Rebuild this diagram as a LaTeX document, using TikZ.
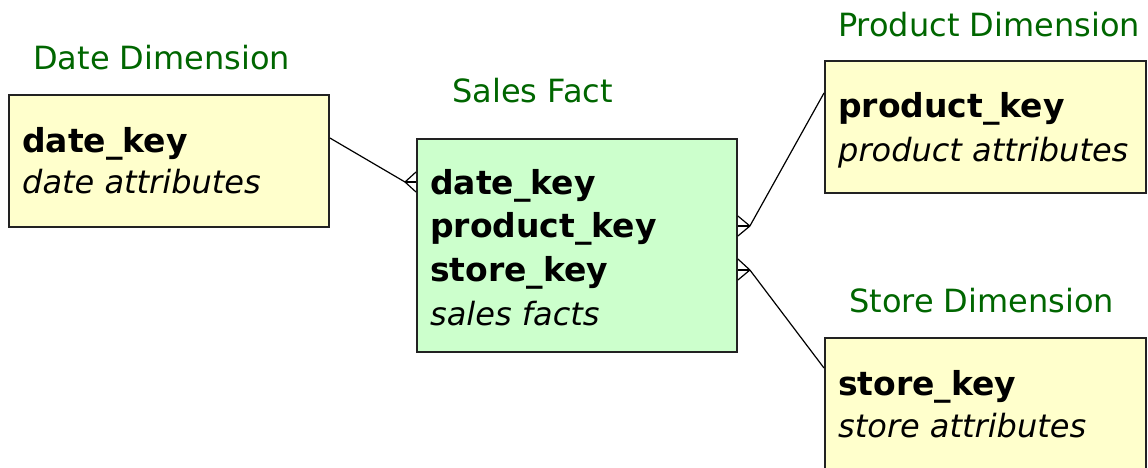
\documentclass[tikz,border=0pt]{standalone}
\usepackage{fontspec}
\setmainfont{DejaVu Sans}
\usetikzlibrary{calc}
\definecolor{dimfill}{HTML}{FFFFCC}
\definecolor{factfill}{HTML}{CCFFCC}
\definecolor{titlegreen}{HTML}{006600}
\definecolor{edgegray}{HTML}{222222}
\tikzset{
  tablebox/.style={draw=edgegray, line width=1.9pt, inner sep=0pt, anchor=north west},
  dimbox/.style={tablebox, fill=dimfill, minimum width=321pt, minimum height=132pt},
  factbox/.style={tablebox, fill=factfill, minimum width=320pt, minimum height=213pt},
  keytext/.style={anchor=base west, inner sep=0pt, font=\fontsize{33}{40}\selectfont\bfseries},
  attrtext/.style={anchor=base west, inner sep=0pt, font=\fontsize{32}{40}\selectfont\itshape},
  title/.style={anchor=base west, inner sep=0pt, text=titlegreen, font=\fontsize{32}{40}\selectfont},
  link/.style={draw=black, line width=1.2pt},
  prong/.style={draw=black, line width=2.2pt}
}
\begin{document}
\begin{tikzpicture}[x=1pt,y=-1pt]
\useasboundingbox (0,0) rectangle (1148,467);
\clip (0,0) rectangle (1148,467);

% tables
\node[dimbox, minimum width=320pt] (date) at (8,94) {};
\node[factbox] (fact) at (416,138) {};
\node[dimbox] (product) at (824,60) {};
\node[dimbox, minimum height=160pt] (store) at (824,337) {};

% titles
\node[title] (tdate) at (33,69) {Date Dimension};
\node[title] (tfact) at (452,102) {Sales Fact};
\node[title] (tproduct) at (838,36) {Product Dimension};
\node[title] (tstore) at (849,312) {Store Dimension};

% table contents
\node[keytext] (d1) at (22,152) {date\_key};
\node[attrtext] (d2) at (22,193) {date attributes};

\node[keytext] (f1) at (430,194) {date\_key};
\node[keytext] (f2) at (430,237.5) {product\_key};
\node[keytext] (f3) at (430,281) {store\_key};
\node[attrtext] (f4) at (430,325) {sales facts};

\node[keytext] (p1) at (838,117) {product\_key};
\node[attrtext] (p2) at (838,161) {product attributes};

\node[keytext] (s1) at (838,395) {store\_key};
\node[attrtext] (s2) at (838,437) {store attributes};

% connection points
\coordinate (dport) at ($(date.north east)+(0,44)$);
\coordinate (dfoot) at ($(fact.north west)+(-11,44)$);
\coordinate (pport) at ($(product.north west)+(0,33)$);
\coordinate (pfoot) at ($(fact.north east)+(12,88)$);
\coordinate (sport) at ($(store.north west)+(0,31)$);
\coordinate (sfoot) at ($(fact.north east)+(12,132)$);

% date -> fact (many side at fact)
\draw[link] (dport) -- (dfoot);
\draw[link] (dfoot) -- ($(fact.north west)+(0,34)$);
\draw[link] (dfoot) -- ($(fact.north west)+(0,54)$);
\draw[prong] (dfoot) -- ($(fact.north west)+(0,44)$);

% product -> fact
\draw[link] (pport) -- (pfoot);
\draw[link] (pfoot) -- ($(fact.north east)+(0,78)$);
\draw[link] (pfoot) -- ($(fact.north east)+(0,98)$);
\draw[prong] (pfoot) -- ($(fact.north east)+(0,88)$);

% store -> fact
\draw[link] (sport) -- (sfoot);
\draw[link] (sfoot) -- ($(fact.north east)+(0,121)$);
\draw[link] (sfoot) -- ($(fact.north east)+(0,142)$);
\draw[prong] (sfoot) -- ($(fact.north east)+(0,132)$);
\end{tikzpicture}
\end{document}
